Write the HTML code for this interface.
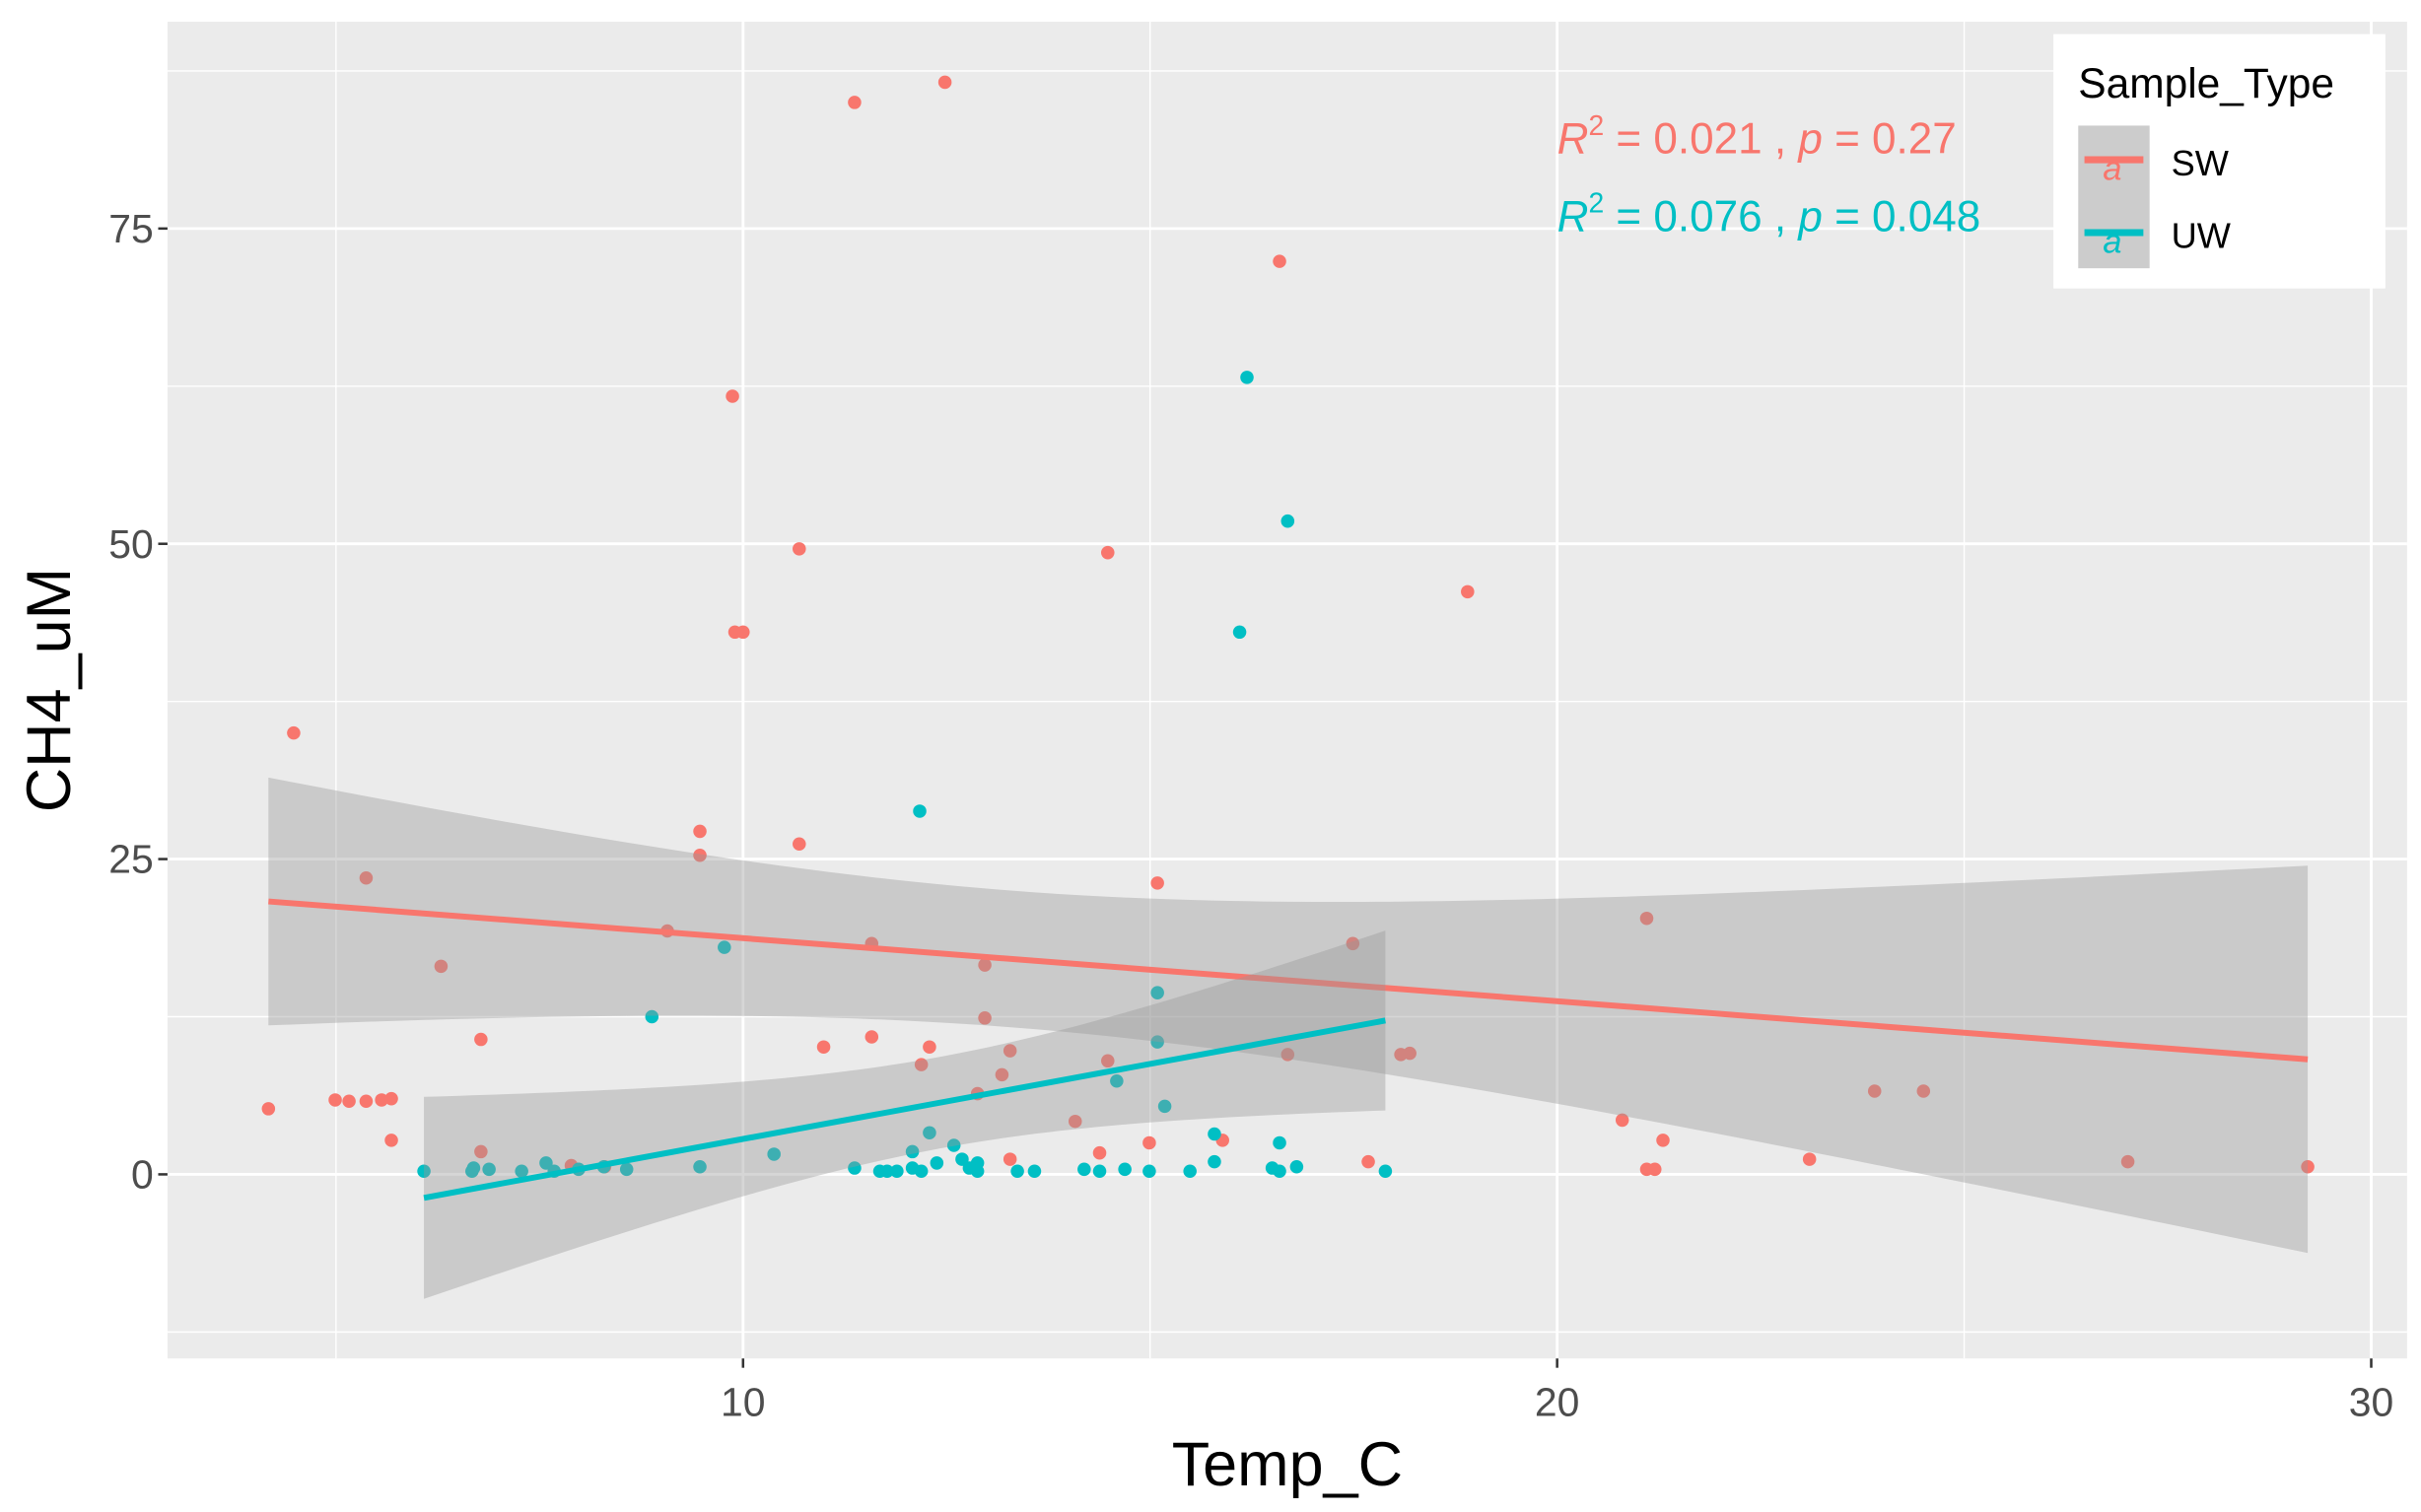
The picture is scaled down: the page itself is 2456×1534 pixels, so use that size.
<!DOCTYPE html>
<html><head><meta charset="utf-8"><style>
html,body{margin:0;padding:0;background:#fff;}
svg{display:block;font-family:"Liberation Sans",sans-serif;}
</style></head><body>
<svg id="chart" width="2456" height="1534" viewBox="0 0 1561 975" preserveAspectRatio="none" xmlns="http://www.w3.org/2000/svg">
<rect x="108" y="14" width="1444" height="862" fill="#EBEBEB"/>
<g id="grid"></g>
<g id="pts"></g>
<g id="smooth"></g>
<g id="axes"></g>
<text x="1004" y="99" font-size="28" fill="#F8766D"><tspan font-style="italic">R</tspan><tspan font-size="18" dy="-12">2</tspan><tspan dy="12"> = 0.021 , </tspan><tspan font-style="italic">p</tspan> = 0.27</text>
<text x="1004" y="149" font-size="28" fill="#00BFC4"><tspan font-style="italic">R</tspan><tspan font-size="18" dy="-12">2</tspan><tspan dy="12"> = 0.076 , </tspan><tspan font-style="italic">p</tspan> = 0.048</text>
<text x="830" y="958" font-size="40" text-anchor="middle" fill="#000">Temp_C</text>
<text transform="translate(45,445) rotate(-90)" font-size="40" text-anchor="middle" fill="#000">CH4_uM</text>
<g>
<rect x="1324" y="22" width="214" height="164" fill="#fff"/>
<text x="1340" y="63" font-size="27" fill="#000">Sample_Type</text>
<rect x="1340" y="81" width="46" height="92" fill="#CCCCCC"/>
<line x1="1344" y1="103" x2="1382" y2="103" stroke="#F8766D" stroke-width="4.5"/>
<text x="1362" y="116" font-size="22" font-style="italic" text-anchor="middle" fill="#F8766D">a</text>
<line x1="1344" y1="150" x2="1382" y2="150" stroke="#00BFC4" stroke-width="4.5"/>
<text x="1362" y="163" font-size="22" font-style="italic" text-anchor="middle" fill="#00BFC4">a</text>
<text x="1400" y="113" font-size="23" fill="#000">SW</text>
<text x="1400" y="160" font-size="23" fill="#000">UW</text>
</g>
</svg>
<script>
const swX=[4.17,4.48,4.99,5.16,5.37,5.56,5.68,5.37,5.68,6.29,6.78,6.78,7.89,8.30,9.07,9.47,9.47,9.87,9.90,10.0,10.69,10.69,10.99,11.37,11.58,11.58,12.19,12.29,12.48,12.88,12.97,12.97,13.18,13.28,13.28,14.08,14.38,14.48,14.48,14.99,15.09,15.89,16.59,16.69,17.49,17.68,18.08,18.19,18.90,20.80,21.10,21.10,21.20,21.30,23.10,23.90,24.50,27.01,29.22];
const swY=[5.2,35.0,5.9,5.8,5.8,5.9,6.0,23.5,2.7,16.5,10.7,1.8,0.7,0.6,19.3,27.2,25.3,61.7,43.0,43.0,49.6,26.2,10.1,85.0,18.3,10.9,8.7,10.1,86.6,6.4,16.6,12.4,7.9,9.8,1.2,4.2,1.7,9.0,49.3,2.5,23.1,2.7,72.4,9.5,18.3,1.0,9.5,9.6,46.2,4.3,20.3,0.4,0.4,2.7,1.2,6.6,6.6,1.0,0.6];
const uwX=[6.08,6.67,6.69,6.88,7.28,7.58,7.68,7.98,8.29,8.57,8.88,9.47,9.77,10.38,11.37,11.68,11.77,11.89,12.08,12.08,12.17,12.19,12.29,12.38,12.59,12.69,12.78,12.88,12.88,13.37,13.58,14.19,14.38,14.59,14.69,14.99,15.09,15.09,15.18,15.49,15.79,15.79,16.10,16.19,16.50,16.59,16.59,16.69,16.80,17.89];
const uwY=[0.25,0.25,0.5,0.4,0.25,0.9,0.25,0.4,0.6,0.4,12.5,0.6,18.0,1.6,0.5,0.25,0.25,0.25,1.8,0.5,28.8,0.25,3.3,0.9,2.3,1.2,0.5,0.9,0.25,0.25,0.25,0.4,0.25,7.4,0.4,0.25,14.4,10.5,5.4,0.25,3.2,1.0,43.0,63.2,0.5,2.5,0.25,51.8,0.6,0.25];
const xTicks=[10,20,30];
const yTicks=[0,25,50,75];
const NS="http://www.w3.org/2000/svg";
const X0=108,X1=1552,Y0=14,Y1=876;
const xmin=2.93,xmax=30.44,ymin=-14.6,ymax=91.4;
function sx(v){return X0+(v-xmin)/(xmax-xmin)*(X1-X0);}
function sy(v){return Y1-(v-ymin)/(ymax-ymin)*(Y1-Y0);}
function mk(tag,parent,attrs){const e=document.createElementNS(NS,tag);for(const k in attrs)e.setAttribute(k,attrs[k]);parent.appendChild(e);return e;}
const grid=document.getElementById('grid');
[5,15,25].forEach(v=>{const l=mk('line',grid,{x1:sx(v),x2:sx(v),y1:Y0,y2:Y1,stroke:'#fff','stroke-width':0.9});

});
[-12.5,12.5,37.5,62.5,87.5].forEach(v=>{const l=mk('line',grid,{x1:X0,x2:X1,y1:sy(v),y2:sy(v),stroke:'#fff','stroke-width':0.9});

});
xTicks.forEach(v=>{const l=mk('line',grid,{x1:sx(v),x2:sx(v),y1:Y0,y2:Y1,stroke:'#fff','stroke-width':1.8});

});
yTicks.forEach(v=>{const l=mk('line',grid,{x1:X0,x2:X1,y1:sy(v),y2:sy(v),stroke:'#fff','stroke-width':1.8});

});
const axes=document.getElementById('axes');
xTicks.forEach(v=>{const t=mk('line',axes,{x1:sx(v),x2:sx(v),y1:Y1,y2:Y1+6,stroke:'#333','stroke-width':1.6});


const tx=mk('text',axes,{x:sx(v),y:Y1+37,'font-size':26,'text-anchor':'middle',fill:'#4D4D4D'});tx.textContent=v;

});
yTicks.forEach(v=>{const t=mk('line',axes,{x1:X0-6,x2:X0,y1:sy(v),y2:sy(v),stroke:'#333','stroke-width':1.6});


const tx=mk('text',axes,{x:X0-9,y:sy(v)+9,'font-size':26,'text-anchor':'end',fill:'#4D4D4D'});tx.textContent=v;

});
const pts=document.getElementById('pts');
function drawPts(xs,ys,col,name){xs.forEach((x,i)=>{const c=mk('circle',pts,{cx:sx(x),cy:sy(ys[i]),r:4.3,fill:col});

});}
drawPts(swX,swY,'#F8766D','point-sw');
drawPts(uwX,uwY,'#00BFC4','point-uw');
const sm=document.getElementById('smooth');
function fit(xs,ys,col,name){const n=xs.length;const mx=xs.reduce((a,b)=>a+b)/n,my=ys.reduce((a,b)=>a+b)/n;
let sxx=0,sxy=0;xs.forEach((x,i)=>{sxx+=(x-mx)**2;sxy+=(x-mx)*(ys[i]-my);});
const b=sxy/sxx,a=my-b*mx;let sse=0;xs.forEach((x,i)=>{sse+=(ys[i]-a-b*x)**2;});
const s=Math.sqrt(sse/(n-2)),t=2.0;const lo=Math.min(...xs),hi=Math.max(...xs);
const up=[],dn=[];for(let k=0;k<=80;k++){const x=lo+(hi-lo)*k/80;const se=s*Math.sqrt(1/n+(x-mx)**2/sxx);const yh=a+b*x;
up.push(sx(x)+','+sy(yh+t*se));dn.unshift(sx(x)+','+sy(yh-t*se));}
const p=mk('polygon',sm,{points:up.concat(dn).join(' '),fill:'#999999','fill-opacity':0.4});


const l=mk('line',sm,{x1:sx(lo),y1:sy(a+b*lo),x2:sx(hi),y2:sy(a+b*hi),stroke:col,'stroke-width':3.8});

}
fit(swX,swY,'#F8766D','sw');
fit(uwX,uwY,'#00BFC4','uw');
</script>
</body></html>
